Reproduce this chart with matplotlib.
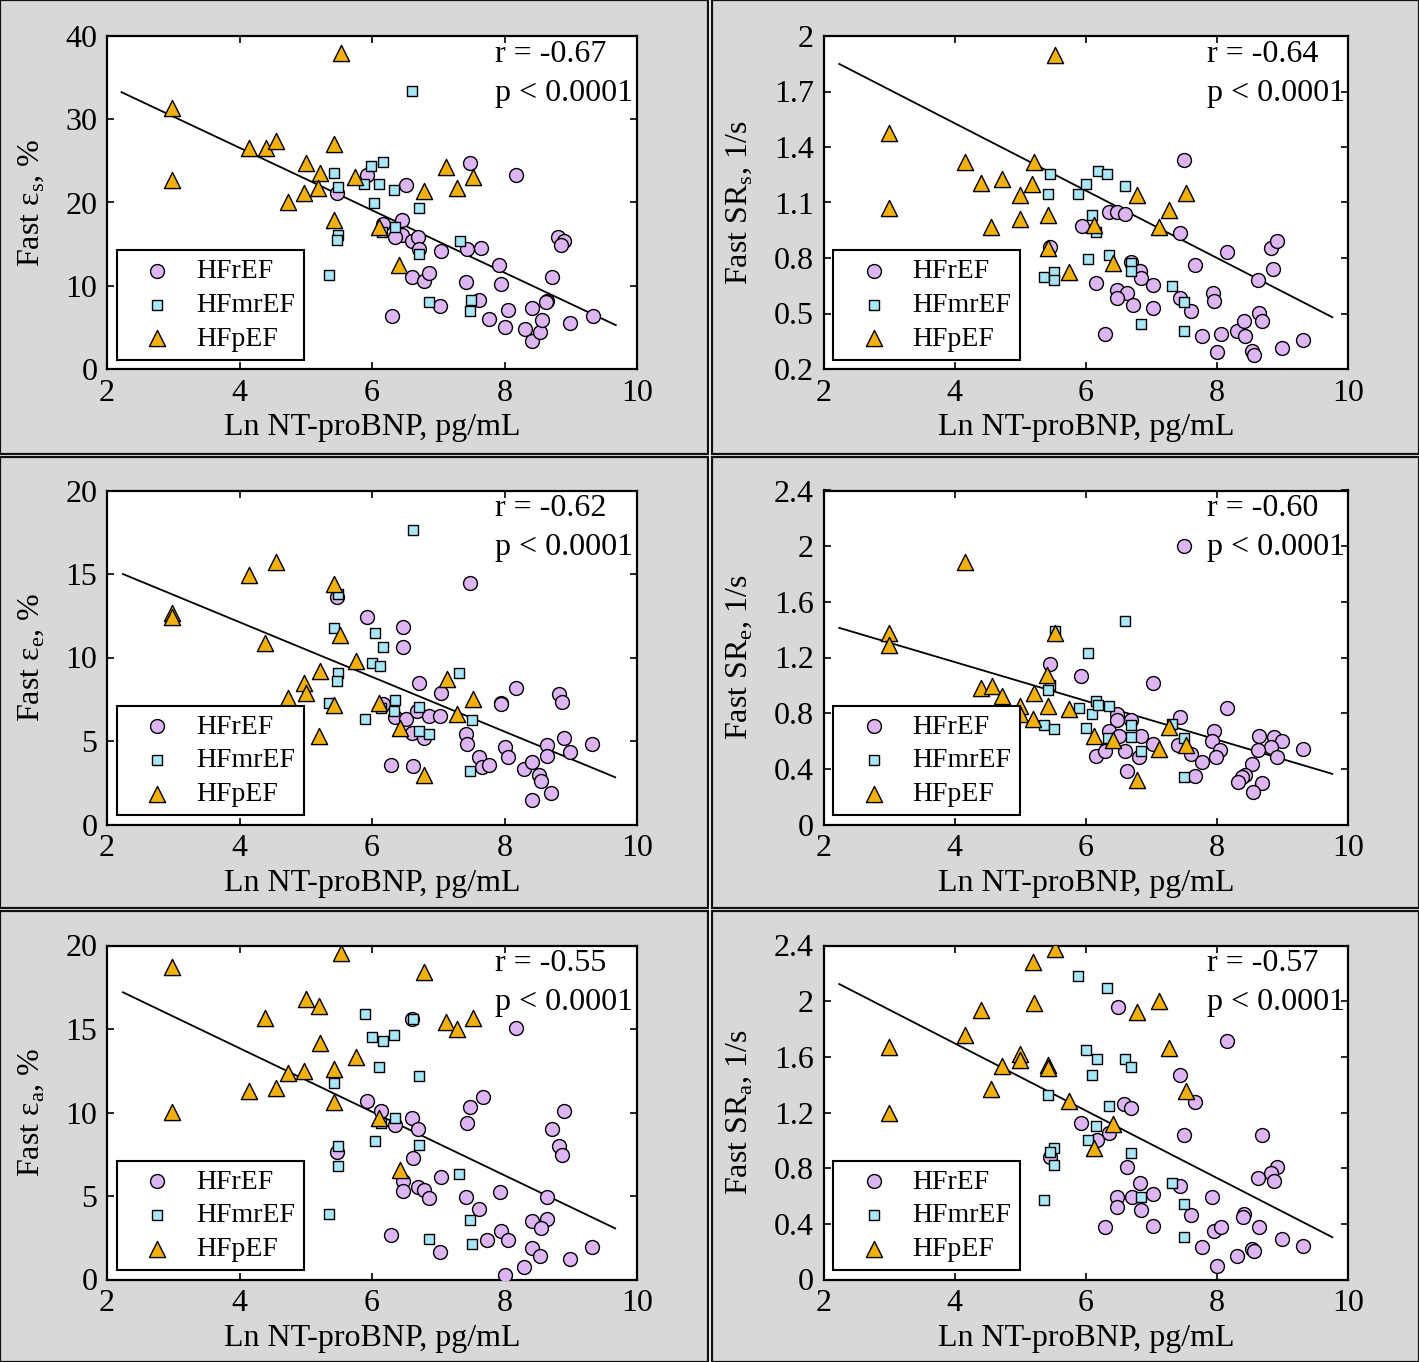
import matplotlib
matplotlib.use("Agg")
import matplotlib.pyplot as plt
from matplotlib.patches import Rectangle

plt.rcParams['font.family'] = ['Liberation Serif', 'DejaVu Serif']
plt.rcParams['mathtext.fontset'] = 'custom'
plt.rcParams['mathtext.rm'] = 'Liberation Serif'

# ---- data ----
# panel 1: fast strain, systolic
es_circ_x = [5.93, 5.47, 6.51, 7.48, 8.17, 6.46, 6.17, 6.46, 6.35, 6.60, 6.69, 6.71, 7.04, 7.44, 7.65, 7.92, 7.95, 7.42, 6.61, 6.79,
             6.86, 6.30, 7.02, 7.62, 7.76, 8.00, 8.06, 8.42, 8.31, 8.42, 8.53, 8.56, 8.64, 8.63, 8.71, 8.81, 8.90, 8.86, 8.99, 9.33]
es_circ_y = [23.3, 21.15, 22.1, 24.8, 23.3, 17.85, 17.45, 16.1, 15.9, 15.4, 15.9, 14.4, 14.2, 14.4, 14.5, 12.5, 10.25, 10.45, 11.0, 10.6,
             11.5, 6.4, 7.6, 8.3, 6.0, 5.0, 7.05, 7.3, 4.8, 3.4, 4.5, 5.9, 8.2, 8.0, 11.0, 15.9, 15.4, 14.85, 5.5, 6.4]
es_sq_x = [6.61, 5.42, 5.49, 5.99, 6.17, 5.88, 6.11, 6.33, 6.03, 6.71, 6.35, 6.15, 5.49, 5.47, 6.71, 5.35, 7.33, 6.86, 7.50, 7.48]
es_sq_y = [33.45, 23.5, 21.9, 24.35, 24.9, 22.2, 22.2, 21.5, 19.9, 19.35, 17.1, 16.4, 16.1, 15.5, 13.8, 11.3, 15.4, 8.0, 8.3, 6.95]
es_tri_x = [5.53, 2.98, 2.98, 4.15, 4.40, 4.55, 5.42, 5.00, 5.21, 5.75, 5.19, 4.97, 4.73, 5.42, 6.11, 6.41, 7.12, 6.78, 7.28, 7.53]
es_tri_y = [37.9, 31.3, 22.75, 26.5, 26.5, 27.4, 27.0, 24.7, 23.5, 23.1, 21.8, 21.1, 20.0, 17.9, 17.0, 12.45, 24.3, 21.4, 21.8, 23.1]
es_fit_x = [2.22, 9.68]
es_fit_y = [33.25, 5.27]

# panel 2: fast strain rate, systolic
srs_circ_x = [7.50, 6.35, 6.48, 6.60, 5.94, 5.46, 7.43, 8.16, 8.83, 8.92, 8.86, 7.66, 8.62, 6.69, 6.82, 6.85, 7.03, 6.15, 6.47, 6.63,
              6.48, 6.72, 7.03, 7.43, 7.61, 7.94, 7.95, 6.30, 7.77, 8.06, 8.00, 8.30, 8.41, 8.43, 8.65, 8.69, 8.54, 8.56, 9.00, 9.32]
srs_circ_y = [1.331, 1.046, 1.046, 1.04, 0.972, 0.857, 0.933, 0.83, 0.855, 0.893, 0.739, 0.76, 0.681, 0.78, 0.731, 0.69, 0.654, 0.663, 0.627, 0.61,
              0.583, 0.546, 0.532, 0.583, 0.514, 0.61, 0.57, 0.39, 0.381, 0.388, 0.29, 0.406, 0.46, 0.381, 0.502, 0.46, 0.295, 0.277, 0.316, 0.358]
srs_sq_x = [5.46, 5.42, 6.18, 6.33, 6.00, 5.88, 6.60, 6.09, 6.15, 6.04, 6.36, 6.69, 6.69, 5.37, 5.51, 5.51, 7.32, 7.50, 6.85, 7.50]
srs_sq_y = [1.256, 1.148, 1.268, 1.256, 1.202, 1.148, 1.188, 1.031, 0.941, 0.793, 0.816, 0.771, 0.731, 0.696, 0.726, 0.681, 0.649, 0.564, 0.444, 0.403]
srs_tri_x = [5.53, 3.00, 3.00, 4.16, 4.40, 4.72, 4.99, 5.18, 5.21, 4.56, 4.99, 5.42, 5.43, 5.75, 6.12, 6.41, 6.78, 7.11, 7.27, 7.53]
srs_tri_y = [1.90, 1.475, 1.07, 1.318, 1.205, 1.225, 1.139, 1.20, 1.318, 0.965, 1.01, 1.035, 0.852, 0.726, 0.977, 0.774, 1.143, 0.968, 1.058, 1.151]
srs_fit_x = [2.24, 9.76]
srs_fit_y = [1.849, 0.48]

# panel 3: fast strain, early diastolic
ee_circ_x = [5.47, 7.48, 5.93, 6.47, 6.47, 6.71, 7.04, 8.17, 7.94, 7.94, 8.82, 8.87, 6.17, 6.35, 6.51, 6.68, 6.86, 7.02, 6.60, 6.79,
             7.42, 7.43, 8.00, 8.06, 7.62, 7.66, 7.76, 6.29, 6.62, 8.30, 8.41, 8.52, 8.55, 8.70, 8.41, 8.64, 8.64, 8.90, 8.99, 9.32]
ee_circ_y = [13.6, 14.48, 12.44, 11.85, 10.61, 8.49, 7.89, 8.15, 7.28, 7.22, 7.83, 7.35, 7.2, 6.46, 6.3, 6.77, 6.52, 6.52, 5.5, 5.16,
             5.42, 4.8, 4.66, 4.02, 4.06, 3.46, 3.56, 3.56, 3.5, 3.32, 3.76, 2.96, 2.62, 1.9, 1.47, 4.76, 4.12, 5.16, 4.36, 4.82]
ee_sq_x = [6.62, 5.48, 5.42, 6.04, 6.17, 6.00, 6.12, 5.48, 5.47, 7.32, 5.35, 6.35, 6.13, 6.33, 6.71, 5.89, 7.51, 6.71, 6.86, 7.48]
ee_sq_y = [17.63, 13.78, 11.79, 11.49, 10.65, 9.65, 9.49, 9.05, 8.61, 9.05, 7.29, 7.45, 6.96, 6.77, 7.02, 6.3, 6.26, 5.62, 5.42, 3.2]
ee_tri_x = [4.55, 4.15, 5.42, 2.98, 2.98, 4.39, 5.52, 5.76, 5.22, 4.98, 5.00, 4.73, 5.42, 7.13, 7.52, 6.11, 7.28, 6.42, 5.20, 6.79]
ee_tri_y = [15.74, 14.94, 14.4, 12.65, 12.44, 10.85, 11.35, 9.79, 9.19, 8.49, 7.86, 7.56, 7.16, 8.71, 7.5, 7.26, 6.62, 5.76, 5.32, 2.96]
ee_fit_x = [2.24, 9.67]
ee_fit_y = [15.0, 2.83]

# panel 4: fast strain rate, early diastolic
sre_circ_x = [7.50, 5.46, 5.93, 7.03, 8.15, 7.43, 6.48, 6.48, 6.69, 6.36, 6.50, 6.85, 7.03, 7.95, 7.92, 8.05, 7.99, 7.41, 7.61, 7.77,
              7.66, 6.15, 6.30, 6.60, 6.81, 6.63, 8.65, 8.87, 9.00, 8.83, 8.63, 8.92, 9.32, 8.54, 8.43, 8.39, 8.32, 8.69, 8.55]
sre_circ_y = [2.0, 1.152, 1.069, 1.014, 0.836, 0.772, 0.791, 0.753, 0.753, 0.673, 0.637, 0.637, 0.578, 0.673, 0.602, 0.535, 0.483, 0.571, 0.505, 0.452,
              0.35, 0.495, 0.528, 0.528, 0.483, 0.388, 0.637, 0.63, 0.602, 0.559, 0.535, 0.488, 0.54, 0.433, 0.357, 0.34, 0.305, 0.298, 0.234]
sre_sq_x = [6.60, 6.04, 5.46, 5.42, 6.16, 6.36, 5.89, 6.09, 5.37, 5.51, 6.00, 7.32, 6.69, 6.69, 6.34, 7.50, 6.85, 7.50, 5.53, 6.18]
sre_sq_y = [1.465, 1.235, 1.005, 0.969, 0.886, 0.848, 0.84, 0.796, 0.713, 0.683, 0.69, 0.725, 0.713, 0.63, 0.625, 0.618, 0.528, 0.341, 1.39, 0.86]
sre_tri_x = [4.16, 3.00, 3.00, 5.53, 5.41, 4.40, 4.57, 4.72, 5.21, 4.99, 4.99, 5.19, 5.43, 5.75, 6.12, 6.41, 7.27, 7.53, 7.12, 6.78]
sre_tri_y = [1.883, 1.377, 1.29, 1.377, 1.076, 0.981, 0.998, 0.92, 0.943, 0.855, 0.791, 0.761, 0.855, 0.832, 0.637, 0.606, 0.701, 0.571, 0.542, 0.322]
sre_fit_x = [2.24, 9.76]
sre_fit_y = [1.413, 0.364]

# panel 5: fast strain, atrial
ea_circ_x = [6.61, 8.17, 7.67, 7.48, 7.44, 8.90, 8.71, 8.82, 8.87, 5.93, 6.13, 6.60, 6.35, 6.69, 5.47, 6.62, 7.04, 6.47, 6.47, 6.70,
             6.79, 6.86, 7.42, 7.93, 7.62, 8.64, 8.41, 8.64, 8.55, 7.95, 7.74, 8.06, 6.29, 7.02, 8.41, 8.54, 8.30, 8.00, 8.99, 9.32]
ea_circ_y = [15.6, 15.08, 10.95, 10.35, 9.39, 10.09, 9.01, 8.01, 7.46, 10.69, 10.09, 9.65, 9.25, 9.01, 7.62, 7.26, 6.12, 5.92, 5.32, 5.52,
             5.36, 4.9, 4.92, 5.26, 4.2, 4.92, 3.5, 3.6, 3.06, 2.92, 2.37, 2.37, 2.66, 1.67, 1.87, 1.41, 0.77, 0.27, 1.23, 1.93]
ea_sq_x = [5.89, 6.62, 6.00, 6.17, 6.33, 6.11, 6.71, 5.42, 6.35, 6.13, 6.04, 6.71, 5.48, 5.48, 7.32, 5.35, 7.48, 6.86, 7.51]
ea_sq_y = [15.88, 15.6, 14.54, 14.3, 14.64, 12.7, 12.2, 11.75, 9.65, 9.35, 8.31, 8.05, 7.99, 6.81, 6.3, 3.92, 3.56, 2.43, 2.1]
ea_tri_x = [5.53, 2.98, 6.79, 5.00, 5.20, 4.39, 7.12, 7.28, 7.52, 5.21, 5.76, 4.73, 4.98, 5.42, 4.15, 4.55, 5.42, 2.98, 6.10, 6.42]
ea_tri_y = [19.53, 18.73, 18.4, 16.8, 16.38, 15.64, 15.44, 14.98, 15.64, 14.14, 13.3, 12.38, 12.49, 12.59, 11.31, 11.45, 10.65, 10.01, 9.65, 6.56]
ea_fit_x = [2.24, 9.67]
ea_fit_y = [17.2, 3.06]

# panel 6: fast strain rate, atrial
sra_circ_x = [6.49, 8.15, 7.43, 7.66, 6.59, 6.69, 5.93, 6.36, 6.17, 5.46, 7.50, 8.69, 6.63, 8.92, 8.83, 8.63, 8.87, 6.82, 7.03, 6.47,
              6.70, 6.48, 6.85, 7.43, 7.92, 7.61, 8.41, 8.40, 6.30, 7.03, 7.95, 8.06, 8.65, 7.77, 8.30, 8.54, 8.56, 8.00, 9.00, 9.32]
sra_circ_y = [1.956, 1.717, 1.467, 1.276, 1.259, 1.235, 1.128, 1.051, 1.0, 0.877, 1.037, 1.04, 0.805, 0.805, 0.765, 0.729, 0.71, 0.69, 0.615, 0.59,
              0.595, 0.519, 0.502, 0.669, 0.595, 0.466, 0.47, 0.45, 0.375, 0.388, 0.345, 0.375, 0.375, 0.232, 0.168, 0.22, 0.205, 0.094, 0.292, 0.244]
sra_sq_x = [5.88, 6.33, 6.00, 6.17, 6.60, 6.69, 6.09, 5.42, 6.36, 6.15, 6.03, 5.51, 5.46, 5.51, 6.69, 7.32, 6.85, 7.50, 5.37, 7.50]
sra_sq_y = [2.178, 2.095, 1.646, 1.582, 1.582, 1.529, 1.467, 1.326, 1.247, 1.104, 1.004, 0.944, 0.913, 0.824, 0.91, 0.69, 0.595, 0.543, 0.574, 0.304]
sra_tri_x = [5.53, 5.19, 5.21, 4.40, 7.11, 6.78, 4.16, 3.00, 7.27, 4.99, 4.99, 5.42, 5.43, 4.72, 4.56, 7.53, 5.75, 3.00, 6.41, 6.12]
sra_tri_y = [2.377, 2.281, 1.987, 1.935, 2.004, 1.923, 1.756, 1.67, 1.66, 1.617, 1.577, 1.541, 1.52, 1.534, 1.367, 1.355, 1.283, 1.2, 1.116, 0.944]
sra_fit_x = [2.24, 9.76]
sra_fit_y = [2.123, 0.304]

group_names = ['HFrEF', 'HFmrEF', 'HFpEF']
x_label = 'Ln NT-proBNP, pg/mL'
x_ticks = [2, 4, 6, 8, 10]

panels = [
    dict(circ=(es_circ_x, es_circ_y), sq=(es_sq_x, es_sq_y), tri=(es_tri_x, es_tri_y), fit=(es_fit_x, es_fit_y),
         ylabel='Fast ε$_\\mathregular{s}$, %', ylim=(0, 40), yticks=[0, 10, 20, 30, 40],
         yticklabels=['0', '10', '20', '30', '40'], r='r = -0.67'),
    dict(circ=(srs_circ_x, srs_circ_y), sq=(srs_sq_x, srs_sq_y), tri=(srs_tri_x, srs_tri_y), fit=(srs_fit_x, srs_fit_y),
         ylabel='Fast SR$_\\mathregular{s}$, 1/s', ylim=(0.2, 2.0), yticks=[0.2, 0.5, 0.8, 1.1, 1.4, 1.7, 2.0],
         yticklabels=['0.2', '0.5', '0.8', '1.1', '1.4', '1.7', '2'], r='r = -0.64'),
    dict(circ=(ee_circ_x, ee_circ_y), sq=(ee_sq_x, ee_sq_y), tri=(ee_tri_x, ee_tri_y), fit=(ee_fit_x, ee_fit_y),
         ylabel='Fast ε$_\\mathregular{e}$, %', ylim=(0, 20), yticks=[0, 5, 10, 15, 20],
         yticklabels=['0', '5', '10', '15', '20'], r='r = -0.62'),
    dict(circ=(sre_circ_x, sre_circ_y), sq=(sre_sq_x, sre_sq_y), tri=(sre_tri_x, sre_tri_y), fit=(sre_fit_x, sre_fit_y),
         ylabel='Fast SR$_\\mathregular{e}$, 1/s', ylim=(0, 2.4), yticks=[0, 0.4, 0.8, 1.2, 1.6, 2.0, 2.4],
         yticklabels=['0', '0.4', '0.8', '1.2', '1.6', '2', '2.4'], r='r = -0.60'),
    dict(circ=(ea_circ_x, ea_circ_y), sq=(ea_sq_x, ea_sq_y), tri=(ea_tri_x, ea_tri_y), fit=(ea_fit_x, ea_fit_y),
         ylabel='Fast ε$_\\mathregular{a}$, %', ylim=(0, 20), yticks=[0, 5, 10, 15, 20],
         yticklabels=['0', '5', '10', '15', '20'], r='r = -0.55'),
    dict(circ=(sra_circ_x, sra_circ_y), sq=(sra_sq_x, sra_sq_y), tri=(sra_tri_x, sra_tri_y), fit=(sra_fit_x, sra_fit_y),
         ylabel='Fast SR$_\\mathregular{a}$, 1/s', ylim=(0, 2.4), yticks=[0, 0.4, 0.8, 1.2, 1.6, 2.0, 2.4],
         yticklabels=['0', '0.4', '0.8', '1.2', '1.6', '2', '2.4'], r='r = -0.57'),
]

W, H = 1419, 1362
fig = plt.figure(figsize=(W / 100, H / 100), dpi=100)

# grey panel frames
col_px = [(0, 708), (712, 1419)]
row_px = [(0, 454), (457, 908), (911, 1362)]
for (r0, r1) in row_px:
    for (c0, c1) in col_px:
        fig.add_artist(Rectangle((c0 / W, 1 - r1 / H), (c1 - c0) / W, (r1 - r0) / H,
                                 transform=fig.transFigure, facecolor='#d8d8d8',
                                 edgecolor='#111111', linewidth=1.6, zorder=0))

ax_left = [107 / W, 823.5 / W]
ax_width = [530 / W, 524.5 / W]
ax_rows = [(36, 369), (490.5, 824.5), (945.5, 1279.5)]

fs = 23
leg_fs = 20
for i, p in enumerate(panels):
    row, col = divmod(i, 2)
    top, bot = ax_rows[row]
    ax = fig.add_axes([ax_left[col], 1 - bot / H, ax_width[col], (bot - top) / H])
    ax.set_facecolor('white')

    ax.scatter(*p['circ'], s=100, marker='o', facecolor='#dcb5f2', edgecolor='black', linewidth=1.0,
               label=group_names[0], zorder=3)
    ax.scatter(*p['sq'], s=58, marker='s', facecolor='#a9e6f6', edgecolor='black', linewidth=1.0,
               label=group_names[1], zorder=4)
    ax.scatter(*p['tri'], s=135, marker='^', facecolor='#f2b00c', edgecolor='black', linewidth=1.0,
               label=group_names[2], zorder=5)
    ax.plot(*p['fit'], color='black', linewidth=1.3, zorder=2)

    ax.set_xlim(2, 10)
    ax.set_xticks(x_ticks)
    ax.set_ylim(*p['ylim'])
    ax.set_yticks(p['yticks'])
    ax.set_yticklabels(p['yticklabels'])
    ax.tick_params(direction='in', top=True, right=True, length=5, width=1.2,
                   labelsize=fs, pad=7)
    for sp in ax.spines.values():
        sp.set_linewidth(1.6)
    ax.set_xlabel(x_label, fontsize=fs, labelpad=4)
    ax.set_ylabel(p['ylabel'], fontsize=fs, labelpad=14)

    ax.text(0.732, 0.945, p['r'], transform=ax.transAxes, fontsize=fs, ha='left', va='center', zorder=6)
    ax.text(0.732, 0.828, 'p < 0.0001', transform=ax.transAxes, fontsize=fs, ha='left', va='center', zorder=6)

    leg = ax.legend(loc='lower left', bbox_to_anchor=(0.019, 0.027), fontsize=leg_fs, frameon=True,
                    fancybox=False, edgecolor='black', framealpha=1, borderpad=0.3,
                    labelspacing=0.3, handletextpad=0.25, handlelength=2.3, borderaxespad=0)
    leg.get_frame().set_linewidth(1.5)
    leg.set_zorder(7)

fig.savefig('out.png', dpi=100)
